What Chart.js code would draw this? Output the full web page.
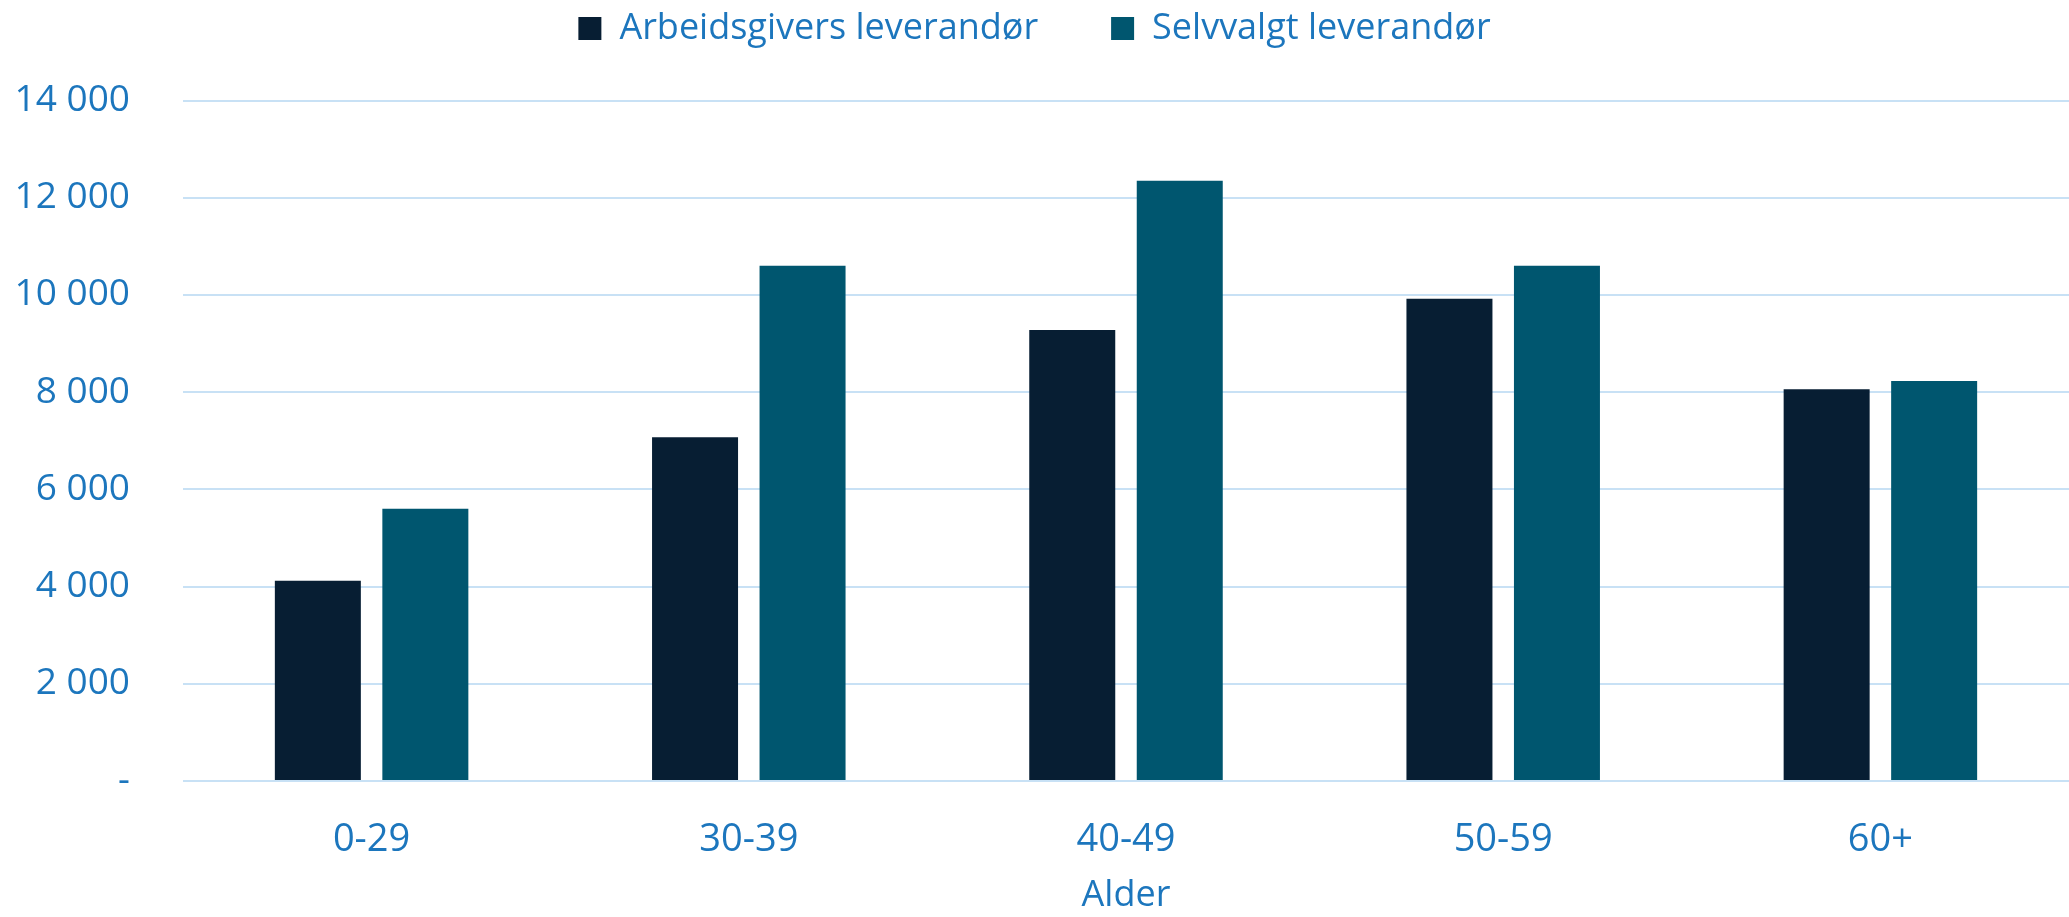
<!DOCTYPE html>
<html>
<head>
<meta charset="utf-8">
<script src="https://cdn.jsdelivr.net/npm/chart.js@4"></script>
<style>
  html, body { margin: 0; padding: 0; background: #ffffff; }
  #wrap { width: 2069px; height: 917px; }
</style>
</head>
<body>
<div id="wrap"><canvas id="myChart" width="2069" height="917"></canvas></div>
<script>
"use strict";

const ageGroups = ["0-29", "30-39", "40-49", "50-59", "60+"];
const employerProvider = [4120, 7070, 9280, 9920, 8060];
const selfChosenProvider = [5600, 10600, 12350, 10600, 8230];
const seriesNames = ["Arbeidsgivers leverandør", "Selvvalgt leverandør"];
const yTicks = [0, 2000, 4000, 6000, 8000, 10000, 12000, 14000];

const textColor = "#1c76bd";
const gridColor = "#c8e1f5";

function formatTick(value) {
  if (value === 0) return "-";
  return String(value).replace(/\B(?=(\d{3})+(?!\d))/g, " ");
}

// push the plot area down below the legend
const legendSpace = {
  id: "legendSpace",
  beforeInit(chart) {
    const fit = chart.legend.fit;
    chart.legend.fit = function () {
      fit.call(this);
      this.height += 44;
    };
  },
};

Chart.defaults.font.family = "'Open Sans', 'Noto Sans', sans-serif";
Chart.defaults.color = textColor;

new Chart("myChart", {
  type: "bar",
  data: {
    labels: ageGroups,
    datasets: [
      {
        label: seriesNames[0],
        data: employerProvider,
        backgroundColor: "#071e33",
      },
      {
        label: seriesNames[1],
        data: selfChosenProvider,
        backgroundColor: "#00566f",
      },
    ],
  },
  options: {
    responsive: false,
    animation: false,
    datasets: {
      bar: { categoryPercentage: 0.57, barPercentage: 0.8 },
    },
    layout: { padding: { top: -62.5, left: 0, right: 0, bottom: 0 } },
    plugins: {
      tooltip: { enabled: false },
      legend: {
        position: "top",
        labels: {
          boxWidth: 23,
          boxHeight: 23,
          padding: 73,
          color: textColor,
          font: { size: 36 },
        },
      },
    },
    scales: {
      x: {
        afterFit(scale) {
          scale.height = 136;
        },
        grid: { display: false, drawTicks: false },
        border: { display: false },
        ticks: { padding: 36, color: textColor, font: { size: 38 } },
        title: {
          display: true,
          text: "Alder",
          color: textColor,
          font: { size: 36 },
          padding: { top: 0, bottom: 0 },
        },
      },
      y: {
        min: 0,
        max: 14000,
        afterBuildTicks(scale) {
          scale.ticks = yTicks.map((v) => ({ value: v }));
        },
        afterFit(scale) {
          scale.width = 183;
        },
        grid: { color: gridColor, lineWidth: 2, drawTicks: false },
        border: { display: false },
        ticks: {
          padding: 53,
          color: textColor,
          font: { size: 37 },
          callback: (value) => formatTick(value),
        },
      },
    },
  },
  plugins: [legendSpace],
});
</script>
</body>
</html>
